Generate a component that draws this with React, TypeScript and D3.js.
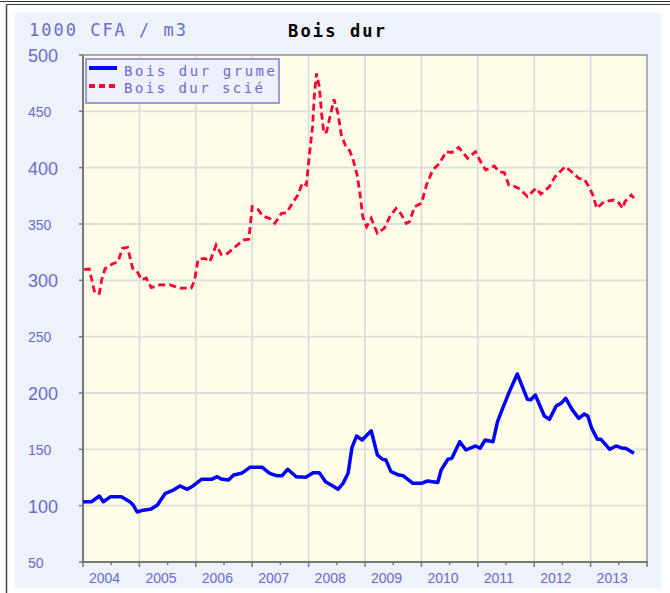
import React from "react";
import * as d3 from "d3";

const grumeT = [2004.0, 2004.15, 2004.29, 2004.36, 2004.49, 2004.68, 2004.83, 2004.89, 2004.96, 2005.07, 2005.21, 2005.32, 2005.46, 2005.58, 2005.72, 2005.85, 2005.95, 2006.1, 2006.28, 2006.38, 2006.45, 2006.58, 2006.67, 2006.81, 2006.96, 2007.18, 2007.31, 2007.43, 2007.53, 2007.63, 2007.78, 2007.95, 2008.08, 2008.19, 2008.3, 2008.43, 2008.52, 2008.61, 2008.7, 2008.77, 2008.85, 2008.95, 2009.11, 2009.22, 2009.31, 2009.37, 2009.46, 2009.6, 2009.68, 2009.85, 2010.0, 2010.11, 2010.29, 2010.35, 2010.47, 2010.54, 2010.68, 2010.79, 2010.96, 2011.04, 2011.13, 2011.27, 2011.35, 2011.44, 2011.56, 2011.7, 2011.79, 2011.88, 2011.94, 2012.02, 2012.18, 2012.27, 2012.39, 2012.48, 2012.56, 2012.67, 2012.79, 2012.89, 2012.95, 2013.02, 2013.12, 2013.18, 2013.34, 2013.45, 2013.56, 2013.62, 2013.77];
const grumeV = [103.5, 103.5, 108.6, 103.5, 108, 108, 103.5, 100.6, 94.4, 96, 97, 100.6, 111, 113.3, 117.5, 114.5, 117.5, 123.4, 123.4, 125.7, 123.7, 122.8, 127.2, 128.7, 134, 134, 128.7, 126.6, 126.6, 132.3, 125.7, 125.2, 129.3, 129.3, 121.3, 117.5, 114.5, 119.8, 128.7, 151.8, 161.8, 158.3, 166.5, 145, 141.2, 140.6, 130.2, 127.2, 126.5, 119.8, 119.8, 121.9, 120.5, 131.7, 141.2, 142, 156.8, 149.4, 153, 151, 158.3, 156.8, 174.5, 186.4, 201.2, 216.9, 205.6, 194.4, 194, 198.2, 179.6, 176.6, 188.5, 191, 195.3, 185.5, 177.5, 181.4, 179.6, 168.6, 158.9, 159, 150, 153, 151, 151, 146.5];

const scieT = [2004.02, 2004.11, 2004.15, 2004.21, 2004.29, 2004.33, 2004.39, 2004.52, 2004.62, 2004.7, 2004.79, 2004.88, 2004.95, 2005.04, 2005.12, 2005.21, 2005.36, 2005.54, 2005.72, 2005.92, 2005.98, 2006.04, 2006.16, 2006.25, 2006.36, 2006.45, 2006.54, 2006.69, 2006.84, 2006.94, 2007.0, 2007.1, 2007.19, 2007.31, 2007.4, 2007.52, 2007.61, 2007.73, 2007.81, 2007.89, 2007.96, 2008.01, 2008.07, 2008.1, 2008.14, 2008.19, 2008.23, 2008.27, 2008.32, 2008.38, 2008.45, 2008.52, 2008.58, 2008.66, 2008.73, 2008.79, 2008.86, 2008.91, 2008.96, 2009.03, 2009.11, 2009.22, 2009.34, 2009.44, 2009.55, 2009.64, 2009.73, 2009.79, 2009.88, 2010.0, 2010.09, 2010.2, 2010.32, 2010.44, 2010.54, 2010.66, 2010.82, 2010.96, 2011.05, 2011.14, 2011.29, 2011.38, 2011.47, 2011.55, 2011.65, 2011.75, 2011.88, 2012.03, 2012.12, 2012.27, 2012.37, 2012.55, 2012.64, 2012.79, 2012.89, 2012.97, 2013.04, 2013.11, 2013.24, 2013.4, 2013.48, 2013.57, 2013.61, 2013.72, 2013.77];
const scieV = [309.8, 310, 301.8, 288.5, 288.5, 300.3, 310.3, 314.5, 316.5, 328.4, 329.3, 310.7, 309, 300.3, 302, 293.5, 295.9, 295.9, 293, 293, 300.3, 318.6, 319.5, 316.5, 331.4, 323.1, 323, 329.3, 335.8, 336.5, 365.4, 363, 357.1, 355, 350.6, 359.5, 360, 369.8, 375.7, 386.6, 384.6, 409.7, 436.4, 463, 483.7, 471.9, 448.3, 430.5, 432, 445.3, 460.7, 448.3, 429, 418.6, 415, 406.8, 393.5, 377.2, 356.5, 347.6, 355, 341.7, 346.2, 356.5, 363.9, 358.9, 350.6, 352, 365.4, 368.4, 384.6, 397.9, 403.8, 414.2, 413.5, 418, 408.3, 414.2, 405.3, 397.9, 401.5, 396.4, 395.5, 384.6, 383.5, 380.8, 374.3, 381.7, 376.6, 383.1, 392, 400.9, 397.3, 390.5, 389.6, 383.1, 375.7, 363.9, 369.8, 371.3, 370, 363.9, 370, 375.7, 373];

const years = [2004, 2005, 2006, 2007, 2008, 2009, 2010, 2011, 2012, 2013];
const yTicks = [50, 100, 150, 200, 250, 300, 350, 400, 450, 500];

const seriesNames = ["Bois dur grume", "Bois dur scié"];
const titleText = "Bois dur";
const unitText = "1000 CFA / m3";

const W = 670;
const H = 593;
const plot = { left: 83, right: 647, top: 55, bottom: 562 };

export default function App() {
  const x = d3.scaleLinear().domain([2004, 2014]).range([plot.left, plot.right]);
  const y = d3.scaleLinear().domain([50, 500]).range([plot.bottom, plot.top]);

  const grume = grumeT.map((t, i) => [t, grumeV[i]] as [number, number]);
  const scie = scieT.map((t, i) => [t, scieV[i]] as [number, number]);
  const line = d3
    .line<[number, number]>()
    .x((d) => x(d[0]))
    .y((d) => y(d[1]));

  const labelColor = "#6b6bcc";
  const mono = "'DejaVu Sans Mono', monospace";
  const sans = "'Liberation Sans', Arial, sans-serif";

  const halfYears = years.map((yr) => yr + 0.5);
  const allYearTicks = [...years, 2014];

  return (
    <svg
      width={W}
      height={H}
      style={{ position: "absolute", left: 0, top: 0, background: "#ffffff" }}
    >
      {/* frame */}
      <line x1={0} x2={W} y1={1.5} y2={1.5} stroke="#333" strokeWidth={1.2} />
      <line x1={6.5} x2={W} y1={4.5} y2={4.5} stroke="#333" strokeWidth={1.2} />
      <line x1={6.5} x2={6.5} y1={4.5} y2={H} stroke="#444" strokeWidth={1.5} />

      {/* panel */}
      <rect x={15} y={13} width={646} height={575} fill="#eef2fb" />

      {/* plot background */}
      <rect
        x={plot.left}
        y={plot.top}
        width={plot.right - plot.left}
        height={plot.bottom - plot.top}
        fill="#fffde8"
      />

      {/* grid */}
      {yTicks.slice(1).map((v) => (
        <line
          key={"gy" + v}
          x1={plot.left}
          x2={plot.right}
          y1={y(v)}
          y2={y(v)}
          stroke="#dddddd"
          strokeWidth={1.8}
        />
      ))}
      {years.slice(1).map((yr) => (
        <line
          key={"gx" + yr}
          x1={x(yr)}
          x2={x(yr)}
          y1={plot.top}
          y2={plot.bottom}
          stroke="#dddddd"
          strokeWidth={1.8}
        />
      ))}

      {/* plot border */}
      <rect
        x={plot.left}
        y={plot.top}
        width={plot.right - plot.left}
        height={plot.bottom - plot.top}
        fill="none"
        stroke="#999"
        strokeWidth={1.5}
      />
      <line x1={plot.left} x2={plot.left} y1={plot.top} y2={plot.bottom + 1} stroke="#777" strokeWidth={2} />
      <line x1={plot.left - 1} x2={plot.right + 1} y1={plot.bottom} y2={plot.bottom} stroke="#777" strokeWidth={2} />

      {/* y ticks */}
      {yTicks.map((v) => (
        <line key={"ty" + v} x1={plot.left - 4} x2={plot.left} y1={y(v)} y2={y(v)} stroke="#777" strokeWidth={1.5} />
      ))}
      {yTicks.map((v) => {
        const major = v % 100 === 0;
        return (
          <text
            key={"ly" + v}
            x={28}
            y={y(v) + (major ? 7 : 5.5)}
            fontFamily={sans}
            fontSize={major ? 18 : 14}
            fill={labelColor}
          >
            {v}
          </text>
        );
      })}

      {/* x ticks */}
      {allYearTicks.map((yr) => (
        <line key={"tx" + yr} x1={x(yr)} x2={x(yr)} y1={plot.bottom} y2={plot.bottom + 5} stroke="#777" strokeWidth={1.5} />
      ))}
      {halfYears.map((yr) => (
        <line key={"tm" + yr} x1={x(yr)} x2={x(yr)} y1={plot.bottom} y2={plot.bottom + 3} stroke="#777" strokeWidth={1.5} />
      ))}
      {years.map((yr) => (
        <text key={"lx" + yr} x={x(yr) + 6} y={583} fontFamily={sans} fontSize={14} fill={labelColor}>
          {yr}
        </text>
      ))}

      {/* series */}
      <path d={line(grume) || ""} fill="none" stroke="#0000ff" strokeWidth={3.5} strokeLinejoin="round" />
      <path
        d={line(scie) || ""}
        fill="none"
        stroke="#ff0033"
        strokeWidth={2.8}
        strokeDasharray="7,4"
      />

      {/* legend */}
      <rect x={86} y={59} width={193} height={44} fill="#eef0fb" stroke="#7b7bd8" strokeWidth={1.5} />
      <line x1={89} x2={117} y1={68} y2={68} stroke="#0000ff" strokeWidth={4} />
      <line x1={89} x2={117} y1={86} y2={86} stroke="#ff0033" strokeWidth={4} strokeDasharray="6,4" />
      <text x={124} y={75.5} fontFamily={mono} fontSize={14} fill={labelColor} textLength={151} lengthAdjust="spacing">
        {seriesNames[0]}
      </text>
      <text x={124} y={93} fontFamily={mono} fontSize={14} fill={labelColor} textLength={139} lengthAdjust="spacing">
        {seriesNames[1]}
      </text>

      {/* titles */}
      <text x={29} y={36} fontFamily={mono} fontSize={17} fill={labelColor} textLength={157} lengthAdjust="spacing">
        {unitText}
      </text>
      <text x={288} y={37} fontFamily={mono} fontSize={17} fontWeight="bold" fill="#000" textLength={97} lengthAdjust="spacing">
        {titleText}
      </text>
    </svg>
  );
}
